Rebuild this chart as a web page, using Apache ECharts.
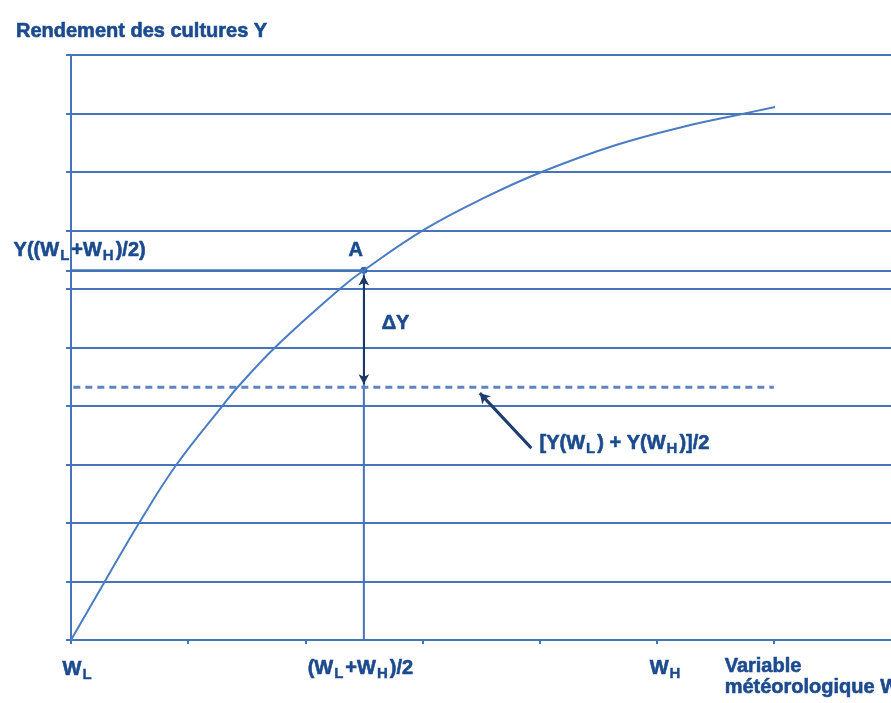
<!DOCTYPE html>
<html>
<head>
<meta charset="utf-8">
<script src="https://cdn.jsdelivr.net/npm/echarts@6/dist/echarts.min.js"></script>
<style>html,body{margin:0;padding:0;background:#fff}#c{width:891px;height:703px}</style>
</head>
<body>
<div id="c"></div>
<script>
// Curve Y(W)
const curveW = [0, 0.28, 0.576, 0.898, 1.305, 1.424, 1.746, 2.305, 2.50, 3.025, 3.525, 4.017, 4.653, 5.22, 5.75, 6.01];
const curveY = [0, 0.97, 1.983, 2.991, 4.034, 4.325, 5.009, 6.017, 6.32, 7.026, 7.556, 8.00, 8.462, 8.77, 9.00, 9.11];
// Key values
const wL = 0;
const wH = 5;
const wMid = 2.5;
const yMid = 6.32;          // Y((WL+WH)/2), point A
const yAvg = 4.32;          // [Y(WL)+Y(WH)]/2
const dashedRange = [0.02, 6.0];
const yTicks = [0, 1, 2, 3, 4, 5, 6, 7, 8, 9, 10];
const xTicks = [0, 1, 2, 3, 4, 5, 6];

const TXT = '#1b4b8e';
const LINE = '#4673b9';
const FONT = '"Liberation Sans", Arial, sans-serif';

const rich = {
  m: { fontSize: 20, fontWeight: 'bold', color: TXT, fontFamily: FONT, lineHeight: 22, verticalAlign: 'bottom', padding: [0, 0, 3, 0], textBorderColor: TXT, textBorderWidth: 0.6 },
  s: { fontSize: 15, fontWeight: 'bold', color: TXT, fontFamily: FONT, lineHeight: 14, verticalAlign: 'bottom', padding: [0, 2, 0, 1], textBorderColor: TXT, textBorderWidth: 0.4 }
};

const labels = [
  { v: [-0.49, 6.62], t: '{m|Y((W}{s|L}{m|+W}{s|H}{m|)/2)}', align: 'left' },
  { v: [2.43, 6.62], t: '{m|A}', align: 'center' },
  { v: [2.77, 5.38], t: '{m|ΔY}', align: 'center' },
  { v: [4.0, 3.33], t: '{m|[Y(W}{s|L}{m|) + Y(W}{s|H}{m|)]/2}', align: 'left' },
  { v: [0.06, -0.54], t: '{m|W}{s|L}', align: 'center' },
  { v: [2.47, -0.52], t: '{m|(W}{s|L}{m|+W}{s|H}{m|)/2}', align: 'center' },
  { v: [5.08, -0.52], t: '{m|W}{s|H}', align: 'center' },
  { v: [5.58, -0.49], t: '{m|Variable}', align: 'left' },
  { v: [5.58, -0.84], t: '{m|météorologique W}', align: 'left' }
];

const chart = echarts.init(document.getElementById('c'), null, { renderer: 'canvas' });
chart.setOption({
  animation: false,
  title: {
    text: 'Rendement des cultures Y',
    left: 11, top: 16,
    textStyle: { fontSize: 20, fontWeight: 'bold', color: TXT, fontFamily: FONT, textBorderColor: TXT, textBorderWidth: 0.6 }
  },
  grid: { left: 71, top: 55, width: 826, height: 585 },
  xAxis: {
    type: 'value', min: 0, max: 7, interval: 1,
    axisLine: { show: true, lineStyle: { color: LINE, width: 2 } },
    axisTick: { show: true, length: 4, lineStyle: { color: LINE, width: 2 }, customValues: xTicks },
    axisLabel: { show: false },
    splitLine: { show: false }
  },
  yAxis: {
    type: 'value', min: 0, max: 10, interval: 1,
    axisLine: { show: true, lineStyle: { color: LINE, width: 2 } },
    axisTick: { show: true, length: 5, lineStyle: { color: LINE, width: 2 }, customValues: yTicks.concat([yMid]) },
    axisLabel: { show: false },
    splitLine: { show: true, lineStyle: { color: LINE, width: 2 } }
  },
  series: [
    {
      type: 'line', name: 'A horizontal', silent: true, symbol: 'none',
      data: [[wL, yMid], [wMid, yMid]],
      lineStyle: { color: LINE, width: 2 }
    },
    {
      type: 'line', name: 'A vertical', silent: true, symbol: 'none',
      data: [[wMid, 0], [wMid, yMid]],
      lineStyle: { color: LINE, width: 2 }
    },
    {
      type: 'line', name: 'moyenne', silent: true, symbol: 'none',
      data: [[dashedRange[0], yAvg], [dashedRange[1], yAvg]],
      lineStyle: { color: '#5d84c3', width: 3, type: [7, 5] }
    },
    {
      type: 'line', name: 'Y(W)', silent: true, symbol: 'none', smooth: 0.4,
      data: curveW.map((w, i) => [w, curveY[i]]),
      lineStyle: { color: '#4a7cc4', width: 2 },
      markLine: {
        silent: true, animation: false,
        label: { show: false },
        data: [
          [{ coord: [wMid, yMid - 0.09], symbol: 'arrow', symbolSize: [8, 10], lineStyle: { color: '#1c3664', width: 2, type: 'solid' } },
           { coord: [wMid, yAvg + 0.05], symbol: 'arrow', symbolSize: [8, 10] }],
          [{ coord: [3.93, 3.28], symbol: 'none', lineStyle: { color: '#1f3d70', width: 3, type: 'solid' } },
           { coord: [3.49, 4.22], symbol: 'arrow', symbolSize: [9, 10] }]
        ]
      }
    },
    {
      type: 'scatter', name: 'A', silent: true,
      data: [[wMid, yMid]], symbolSize: 7,
      itemStyle: { color: '#2f64b0', opacity: 1 }
    },
    {
      type: 'scatter', name: 'labels', silent: true, clip: false, symbolSize: 0,
      itemStyle: { opacity: 1 },
      data: labels.map(l => ({
        value: l.v,
        label: { show: true, position: 'inside', align: l.align, verticalAlign: 'middle', formatter: l.t, rich: rich, opacity: 1 }
      }))
    }
  ]
});
</script>
</body>
</html>
